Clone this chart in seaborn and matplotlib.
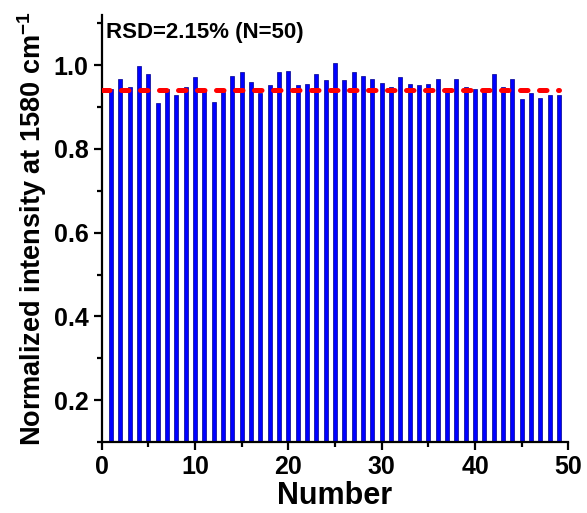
import numpy as np
import pandas as pd
import seaborn as sns
import matplotlib
matplotlib.use("Agg")
import matplotlib.pyplot as plt
from matplotlib.ticker import MultipleLocator

# bar heights (sample number 1..49)
numbers = list(range(1, 50))
intensity = [0.943, 0.968, 0.948, 0.998, 0.980, 0.910, 0.944, 0.929, 0.948, 0.971,
             0.940, 0.912, 0.936, 0.975, 0.983, 0.960, 0.933, 0.952, 0.983, 0.987,
             0.952, 0.956, 0.979, 0.964, 1.005, 0.964, 0.983, 0.975, 0.967, 0.957,
             0.949, 0.972, 0.956, 0.952, 0.955, 0.966, 0.942, 0.967, 0.948, 0.944,
             0.944, 0.978, 0.948, 0.967, 0.920, 0.934, 0.922, 0.928, 0.930]
mean_level = 0.941
line_span = [0, 49]
note = "RSD=2.15% (N=50)"

df = pd.DataFrame({"Number": numbers, "Intensity": intensity})

sns.set_style("ticks")
plt.rcParams["font.family"] = ["Liberation Sans", "DejaVu Sans"]
plt.rcParams["font.weight"] = "bold"
plt.rcParams["text.color"] = "black"
plt.rcParams["axes.labelcolor"] = "black"
plt.rcParams["axes.edgecolor"] = "black"
plt.rcParams["xtick.color"] = "black"
plt.rcParams["ytick.color"] = "black"
plt.rcParams["mathtext.fontset"] = "custom"
plt.rcParams["mathtext.rm"] = "Liberation Sans:bold"
plt.rcParams["mathtext.bf"] = "Liberation Sans:bold"

fig = plt.figure(figsize=(5.87, 5.13), dpi=100)
ax = fig.add_axes([0.1733, 0.1384, 0.7949, 0.8324])

sns.barplot(data=df, x="Number", y="Intensity", native_scale=True, width=0.45,
            color="#0000ff", saturation=1, edgecolor="#00008b", linewidth=0.5, ax=ax)

ax.plot(line_span, [mean_level, mean_level], color="#ff0000", lw=3.6,
        linestyle=(0, (1.5, 2.3)), dash_capstyle="round", zorder=5)

ax.set_xlim(0, 50)
ax.set_ylim(0.1, 1.12)
ax.xaxis.set_major_locator(MultipleLocator(10))
ax.xaxis.set_minor_locator(MultipleLocator(5))
ax.yaxis.set_minor_locator(MultipleLocator(0.1))
ax.set_yticks([0.2, 0.4, 0.6, 0.8, 1.0])
ax.set_yticklabels(["0.2", "0.4", "0.6", "0.8", "1.0"])

ax.tick_params(which="major", direction="out", length=6, width=1.6, labelsize=18)
ax.tick_params(which="minor", direction="out", length=3.5, width=1.6)
for lab in ax.get_xticklabels() + ax.get_yticklabels():
    lab.set_fontweight("bold")

sns.despine(ax=ax)
for s in ["left", "bottom"]:
    ax.spines[s].set_linewidth(1.6)

ax.set_xlabel("Number", fontsize=22, fontweight="bold", labelpad=1)
ax.set_ylabel(r"Normalized intensity at 1580 cm$^{-1}$", fontsize=19.5,
              fontweight="bold", labelpad=3)

ax.text(0.01, 0.96, note, transform=ax.transAxes, fontsize=16,
        fontweight="bold", va="center", ha="left")

fig.savefig("out.png", dpi=100)
